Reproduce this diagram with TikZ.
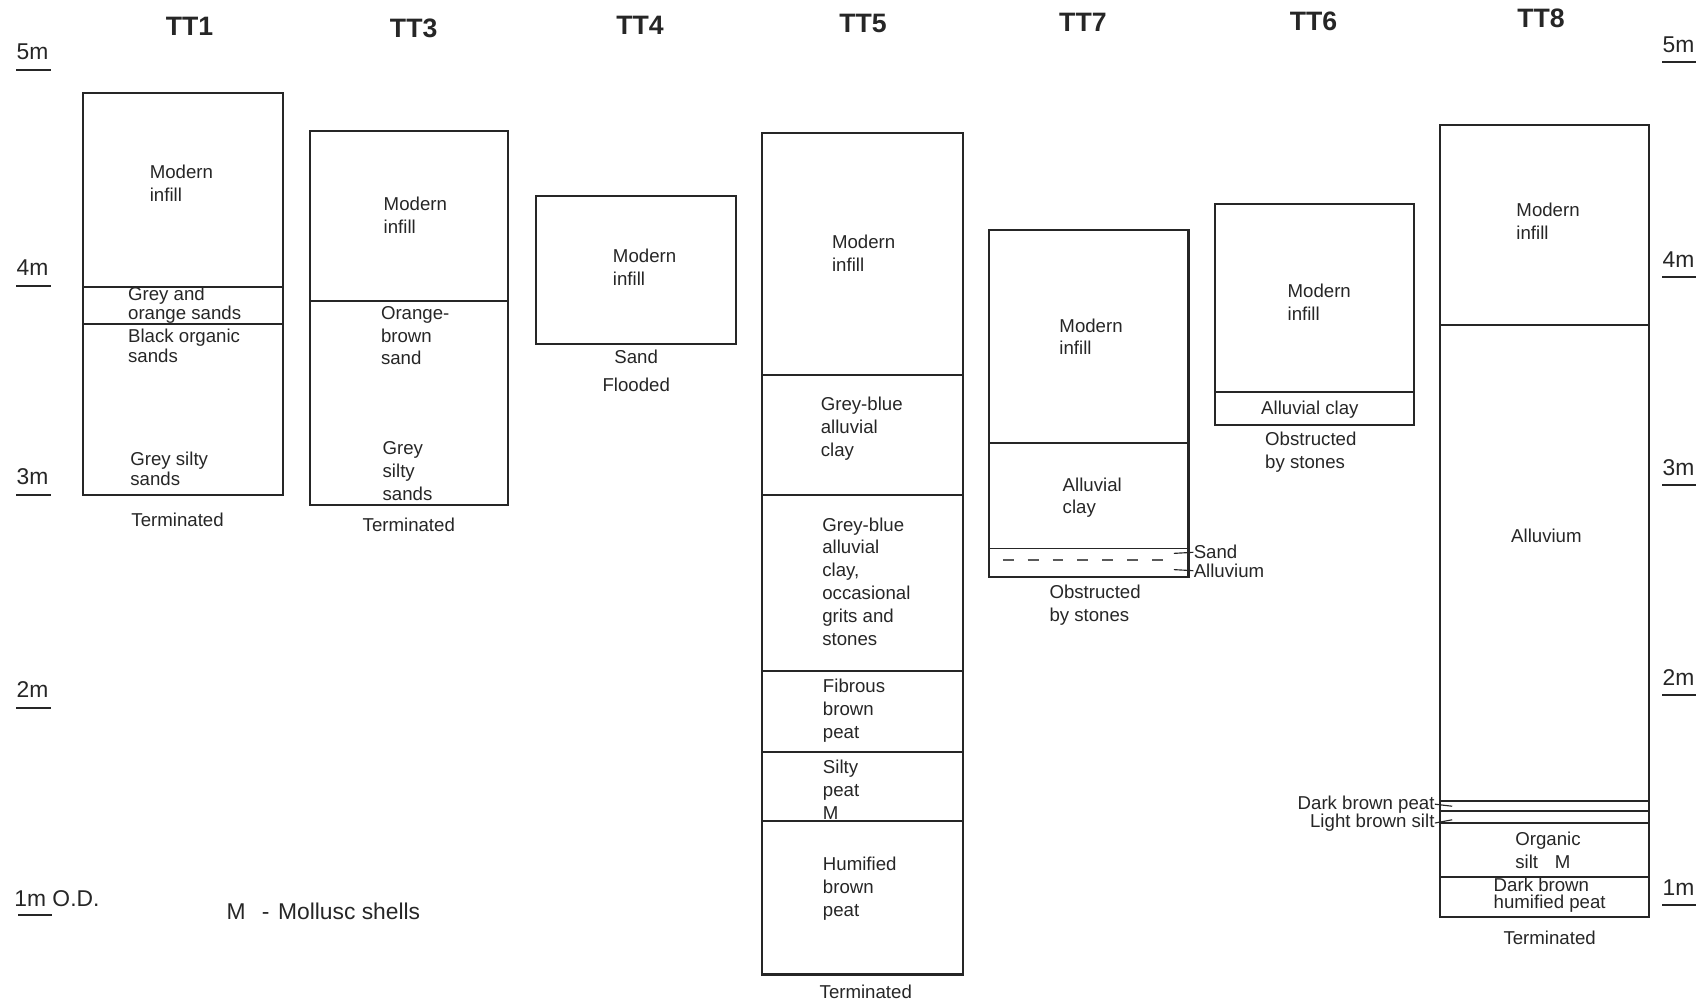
\documentclass[tikz,border=0pt]{standalone}
\usepackage{fontspec}
\setmainfont{Liberation Sans}
\usetikzlibrary{positioning}
\definecolor{ink}{HTML}{262626}
\definecolor{dashgrey}{HTML}{5A5A5A}
\newcommand\layerfont{\fontsize{9.8}{12}\selectfont}
\newcommand\pitfont{\fontsize{14}{16}\selectfont\bfseries}
\newcommand\levelfont{\fontsize{12}{14}\selectfont}
\tikzset{
  pit/.style={draw=ink,line width=1.1pt,inner sep=0pt,outer sep=0pt,anchor=north west},
  layerline/.style={draw=ink,line width=1pt},
  layertext/.style={font=\layerfont,text=ink,align=left,anchor=west,inner sep=0pt},
  pitname/.style={font=\pitfont,text=ink,inner sep=0pt},
  endnote/.style={font=\layerfont,text=ink,align=left,inner sep=0pt},
  level/.style={font=\levelfont,text=ink,anchor=west,inner sep=0pt},
  leveltick/.style={draw=ink,line width=1pt},
  leader/.style={draw=ink,line width=0.6pt},
  dashlayer/.style={draw=dashgrey,line width=0.8pt,dash pattern=on 0.2cm off 0.26cm}
}

\begin{document}
\begin{tikzpicture}[x=0.02cm,y=-0.02cm]
  \useasboundingbox (0,0) rectangle (1568,924);

  \foreach \n/\x/\y in {1/175/24,3/382/26,4/591/23,5/797/22,7/1000/21,6/1213/20,8/1423/17}
    \node[pitname] (title\n) at (\x,\y) {TT\n};

  % height scale, left and right
  \foreach \m/\y in {5/48,4/247,3/440,2/637}{
    \node[level] (left\m) at (15,\y) {\m m};
    \draw[leveltick] (15,\y+17) -- (47,\y+17);
  }
  \node[level] (left1) at (13,830) {1m O.D.};
  \draw[leveltick] (17,845) -- (48,845);
  \foreach \m/\y in {5/41,4/240,3/432,2/626,1/820}{
    \node[level] (right\m) at (1535,\y) {\m m};
    \draw[leveltick] (1535,\y+16) -- (1566,\y+16);
  }

  % TT1
  \node[pit,minimum width=3.68cm,minimum height=7.42cm] (tt1) at (77,86) {};
  \foreach \y in {264.7,299.5} \draw[layerline] (tt1.west |- 0,\y) -- (tt1.east |- 0,\y);
  \node[layertext] (t1a) at (138,169) {Modern\\infill};
  \node[layertext,font=\fontsize{9.8}{8.8}\selectfont] (t1b) at (118,282) {Grey and\\orange sands};
  \node[layertext,font=\fontsize{9.8}{10.5}\selectfont] (t1c) at (118,319) {Black organic\\sands};
  \node[layertext,font=\fontsize{9.8}{9.1}\selectfont] (t1d) at (120,433) {Grey silty\\sands};
  \node[endnote,below=0.32cm of tt1,xshift=-0.1cm] (end1) {Terminated};

  % TT3
  \node[pit,minimum width=3.66cm,minimum height=6.90cm] (tt3) at (286,121) {};
  \draw[layerline] (tt3.west |- 0,277.6) -- (tt3.east |- 0,277.6);
  \node[layertext] (t3a) at (354,199) {Modern\\infill};
  \node[layertext] (t3b) at (351.5,310) {Orange-\\brown\\sand};
  \node[layertext] (t3c) at (353,435) {Grey\\silty\\sands};
  \node[endnote,below=0.25cm of tt3] (end3) {Terminated};

  % TT4
  \node[pit,minimum width=3.70cm,minimum height=2.74cm] (tt4) at (495,181) {};
  \node[layertext] (t4a) at (565.7,247) {Modern\\infill};
  \node[endnote,below=0.09cm of tt4] (sand4) {Sand};
  \node[endnote,below=0.25cm of sand4] (flood4) {Flooded};

  % TT5
  \node[pit,minimum width=3.70cm,minimum height=15.54cm] (tt5) at (704,123) {};
  \foreach \y in {346,457,620,694,758.5} \draw[layerline] (tt5.west |- 0,\y) -- (tt5.east |- 0,\y);
  \node[layertext] (t5a) at (768,234) {Modern\\infill};
  \node[layertext] (t5b) at (757.6,396) {Grey-blue\\alluvial\\clay};
  \node[layertext] (t5c) at (759,537) {Grey-blue\\alluvial\\clay,\\occasional\\grits and\\stones};
  \node[layertext] (t5d) at (759.6,656.5) {Fibrous\\brown\\peat};
  \node[layertext] (t5e) at (759.6,729) {Silty\\peat\\M};
  \node[layertext] (t5f) at (759.6,820.5) {Humified\\brown\\peat};
  \node[endnote,below=0.19cm of tt5,xshift=0.06cm] (end5) {Terminated};

  % TT7
  \node[pit,minimum width=3.69cm,minimum height=6.41cm] (tt7) at (913,212.5) {};
  \foreach \y in {409,506.5} \draw[layerline] (tt7.west |- 0,\y) -- (tt7.east |- 0,\y);
  \draw[dashlayer] (926,517) -- (1084,517);
  \node[layertext] (t7a) at (978,311) {Modern\\infill};
  \node[layertext] (t7b) at (981,459.5) {Alluvial\\clay};
  \node[layertext] (sand7) at (1102,510) {Sand};
  \node[layertext] (alluv7) at (1102,527) {Alluvium};
  \coordinate (sandpt) at (1084,511);
  \coordinate (alluvpt) at (1084,526);
  \draw[leader] (sandpt) -- (sand7.west);
  \draw[leader] (alluvpt) -- (alluv7.west);
  \node[layertext] (end7) at (968.8,559) {Obstructed\\by stones};

  % TT6
  \node[pit,minimum width=3.68cm,minimum height=4.08cm] (tt6) at (1122,188.4) {};
  \draw[layerline] (tt6.west |- 0,362) -- (tt6.east |- 0,362);
  \node[layertext] (t6a) at (1188.7,279) {Modern\\infill};
  \node[endnote] (t6b) at (1209.6,378.6) {Alluvial clay};
  \node[layertext] (end6) at (1168,417.5) {Obstructed\\by stones};

  % TT8
  \node[pit,minimum width=3.86cm,minimum height=14.63cm] (tt8) at (1330,115.5) {};
  \foreach \y in {300,740,749,760,809.5} \draw[layerline] (tt8.west |- 0,\y) -- (tt8.east |- 0,\y);
  \node[layertext] (t8a) at (1400,204.5) {Modern\\infill};
  \node[endnote] (t8b) at (1428,495) {Alluvium};
  \node[layertext,anchor=east] (peat8) at (1325,742.6) {Dark brown peat};
  \node[layertext,anchor=east] (silt8) at (1325,760) {Light brown silt};
  \coordinate (peatpt) at (1341,744.5);
  \coordinate (siltpt) at (1341,757);
  \draw[leader] (peat8.east) -- (peatpt);
  \draw[leader] (silt8.east) -- (siltpt);
  \node[layertext] (t8c) at (1399,785.6) {Organic\\silt\hspace{0.9em}M};
  \node[layertext,font=\fontsize{9.8}{9.1}\selectfont] (t8d) at (1379,826.5) {Dark brown\\humified peat};
  \node[endnote,below=0.25cm of tt8,xshift=0.09cm] (end8) {Terminated};

  \node[level] (key) at (209,842) {M\hspace{8.5pt}-\hspace{4.5pt}Mollusc shells};
\end{tikzpicture}
\end{document}
